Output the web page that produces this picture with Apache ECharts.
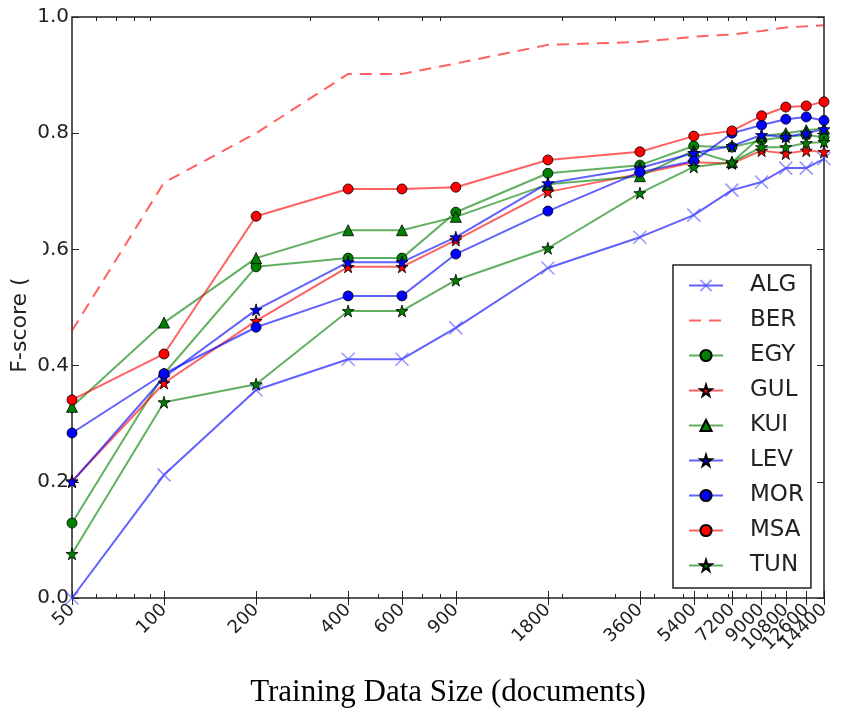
<!DOCTYPE html>
<html>
<head>
<meta charset="utf-8">
<script src="https://cdn.jsdelivr.net/npm/echarts@6/dist/echarts.min.js"></script>
<style>
  html, body { margin: 0; padding: 0; background: #fff; }
  #chart { width: 853px; height: 715px; }
</style>
</head>
<body>
<div id="chart"></div>
<script>
// training set sizes (documents), x axis is log scaled
const sizes = [50, 100, 200, 400, 600, 900, 1800, 3600, 5400, 7200, 9000, 10800, 12600, 14400]
const minorTicks = [60, 70, 80, 90, 300, 500, 700, 800, 2000, 3000, 4000, 5000, 6000, 7000, 8000, 10000]
// labels split over two axes so the crowded ones at the right end are all kept
const labelsMain = [50, 100, 200, 400, 600, 900, 1800, 3600, 5400, 7200, 9000, 12600]
const labelsExtra = [10800, 14400]

// F-scores per dialect
const ALG = [0.0, 0.212, 0.358, 0.411, 0.411, 0.465, 0.568, 0.621, 0.659, 0.702, 0.716, 0.740, 0.740, 0.756]
const BER = [0.46, 0.715, 0.80, 0.902, 0.902, 0.92, 0.952, 0.957, 0.966, 0.970, 0.976, 0.982, 0.984, 0.986]
const EGY = [0.129, 0.386, 0.570, 0.585, 0.585, 0.664, 0.731, 0.745, 0.778, 0.776, 0.788, 0.794, 0.797, 0.793]
const GUL = [0.201, 0.370, 0.477, 0.570, 0.570, 0.616, 0.699, 0.730, 0.750, 0.748, 0.770, 0.765, 0.770, 0.768]
const KUI = [0.329, 0.474, 0.585, 0.633, 0.633, 0.656, 0.712, 0.726, 0.770, 0.750, 0.795, 0.800, 0.805, 0.808]
const LEV = [0.200, 0.380, 0.496, 0.578, 0.578, 0.621, 0.714, 0.740, 0.766, 0.778, 0.797, 0.794, 0.800, 0.807]
const MOR = [0.284, 0.386, 0.466, 0.520, 0.520, 0.592, 0.666, 0.733, 0.752, 0.800, 0.814, 0.824, 0.828, 0.822]
const MSA = [0.341, 0.420, 0.657, 0.704, 0.704, 0.707, 0.754, 0.768, 0.795, 0.804, 0.830, 0.845, 0.847, 0.854]
const TUN = [0.076, 0.337, 0.368, 0.494, 0.494, 0.547, 0.602, 0.697, 0.742, 0.750, 0.776, 0.776, 0.783, 0.785]

const BLUE = '#0000ff', RED = '#ff0000', GREEN = '#008000'
const STAR = 'path://M50,0L61,35L98,35L68,57L79,91L50,70L21,91L32,57L2,35L39,35Z'
const CROSS = 'path://M0,0L10,10M0,10L10,0'

const FONT = 'DejaVu Sans'

function pairs(vals) {
  return sizes.map((s, i) => [s, vals[i]])
}

// name, values, color, symbol, size, dashed
const lines = [
  ['ALG', ALG, BLUE, CROSS, 13, false],
  ['BER', BER, RED, 'none', 0, true],
  ['EGY', EGY, GREEN, 'circle', 10, false],
  ['GUL', GUL, RED, STAR, 12, false],
  ['KUI', KUI, GREEN, 'triangle', 11, false],
  ['LEV', LEV, BLUE, STAR, 12, false],
  ['MOR', MOR, BLUE, 'circle', 10, false],
  ['MSA', MSA, RED, 'circle', 10, false],
  ['TUN', TUN, GREEN, STAR, 12, false],
]

const series = lines.map(([name, vals, color, symbol, size, dashed]) => {
  const isCross = symbol === CROSS
  return {
    name: name,
    type: 'line',
    data: pairs(vals),
    symbol: symbol,
    symbolSize: size,
    showSymbol: symbol !== 'none',
    z: 3,
    lineStyle: {
      color: color,
      width: 2,
      opacity: 0.62,
      type: dashed ? [12, 8] : 'solid'
    },
    itemStyle: isCross
      ? { color: 'rgba(0,0,255,0.45)', borderColor: 'rgba(70,70,255,0.55)', borderWidth: 1.6 }
      : { color: color, borderColor: '#000', borderWidth: 0.8 },
    emphasis: { disabled: true },
    animation: false
  }
})

const legendData = lines.map(l => l[0] === 'BER'
  ? { name: 'BER', itemStyle: { opacity: 0 } }
  : { name: l[0] })

const tickCommon = { inside: true, length: 7, lineStyle: { color: '#222', width: 1 } }
const minorTick = { customValues: minorTicks, inside: true, length: 4, lineStyle: { color: '#222' } }
const xLabelStyle = {
  rotate: 45, margin: 9, hideOverlap: false,
  fontFamily: FONT, fontSize: 18, color: '#222',
  formatter: v => String(Math.round(v))
}

const chart = echarts.init(document.getElementById('chart'))
chart.setOption({
  backgroundColor: '#fff',
  animation: false,
  grid: {
    left: 72, right: 29, top: 17, bottom: 117,
    outerBoundsMode: 'none', containLabel: false,
    show: true, borderColor: '#222', borderWidth: 1.5, backgroundColor: 'transparent'
  },
  legend: {
    orient: 'vertical',
    left: 673, top: 265,
    padding: [9, 7, 11, 15],
    itemWidth: 34, itemHeight: 14, itemGap: 12,
    borderColor: '#222', borderWidth: 1.5,
    backgroundColor: '#fff',
    data: legendData,
    textStyle: { fontFamily: FONT, fontSize: 23, color: '#222', lineHeight: 23, padding: [0, 0, 0, 22] }
  },
  graphic: [
    // the left part of the 0.6 label is covered in the source figure
    { type: 'rect', left: 0, top: 238, z: 100, shape: { width: 43, height: 34 }, style: { fill: '#fff' } }
  ],
  xAxis: [
    {
      type: 'log', min: 50, max: 14400, position: 'bottom',
      name: 'Training Data Size (documents)', nameLocation: 'middle', nameGap: 79,
      nameTextStyle: { fontFamily: 'Liberation Serif', fontSize: 31, color: '#000' },
      axisLine: { show: false },
      axisTick: Object.assign({ customValues: sizes }, tickCommon),
      axisLabel: Object.assign({ customValues: labelsMain }, xLabelStyle),
      splitLine: { show: false }, minorTick: { show: false }
    },
    {
      type: 'log', min: 50, max: 14400, position: 'top',
      axisLine: { show: false },
      axisTick: Object.assign({ customValues: sizes }, tickCommon),
      axisLabel: { show: false }, splitLine: { show: false }
    },
    {
      type: 'log', min: 50, max: 14400, position: 'bottom',
      axisLine: { show: false }, axisTick: minorTick,
      axisLabel: Object.assign({ customValues: labelsExtra }, xLabelStyle),
      splitLine: { show: false }
    },
    {
      type: 'log', min: 50, max: 14400, position: 'top',
      axisLine: { show: false }, axisTick: minorTick,
      axisLabel: { show: false }, splitLine: { show: false }
    }
  ],
  yAxis: [
    {
      type: 'value', min: 0, max: 1, interval: 0.2, position: 'left',
      name: 'F-score (', nameLocation: 'middle', nameGap: 41, nameRotate: 90,
      nameMoveOverlap: false,
      nameTextStyle: { fontFamily: FONT, fontSize: 22, color: '#222', padding: [0, 35, 0, 0] },
      axisLine: { show: false },
      axisTick: tickCommon,
      axisLabel: { fontFamily: FONT, fontSize: 20, color: '#222', margin: 3, formatter: v => v.toFixed(1) },
      splitLine: { show: false }
    },
    {
      type: 'value', min: 0, max: 1, interval: 0.2, position: 'right',
      axisLine: { show: false },
      axisTick: tickCommon,
      axisLabel: { show: false }, splitLine: { show: false }
    }
  ],
  series: series
})
</script>
</body>
</html>
